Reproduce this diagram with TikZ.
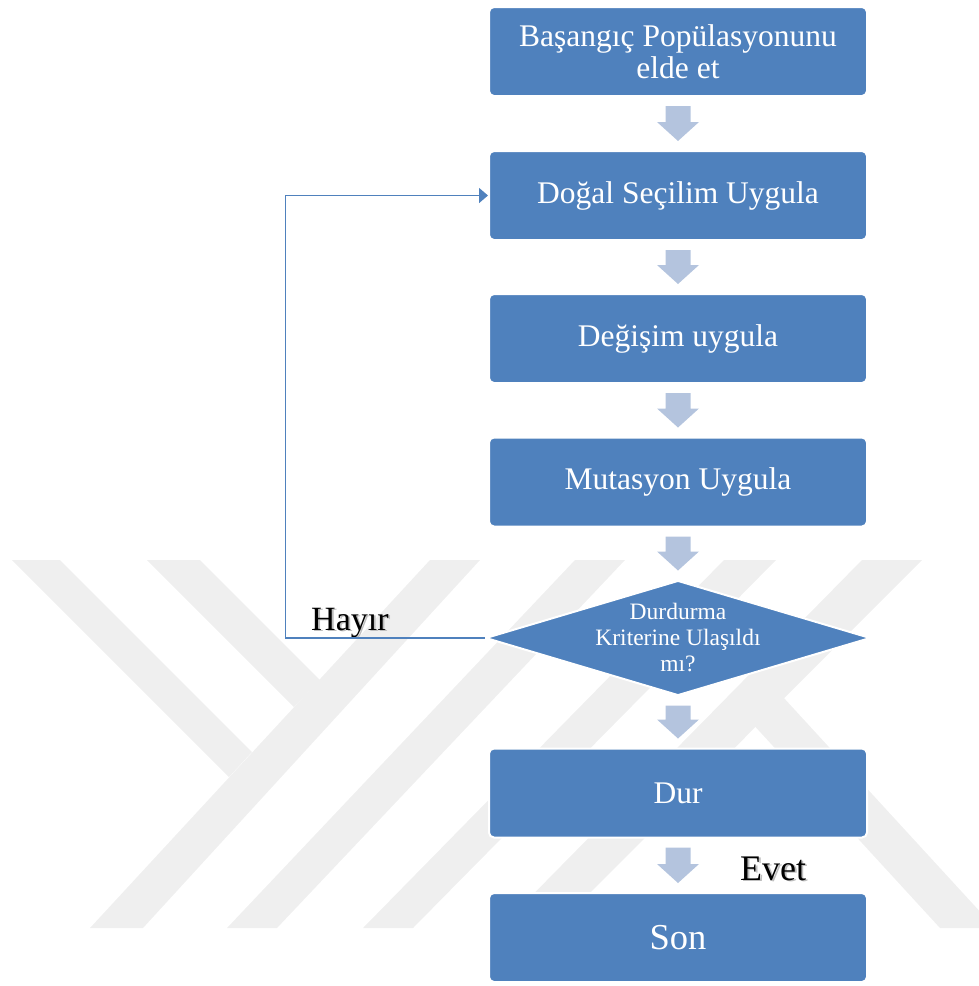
\documentclass[tikz,border=0pt]{standalone}
\usepackage{fontspec}
\setmainfont{Liberation Serif}
\usetikzlibrary{calc,arrows.meta,shapes.geometric}
\definecolor{boxblue}{RGB}{79,129,189}
\definecolor{arrowblue}{RGB}{180,196,222}
\definecolor{wmgray}{RGB}{239,239,239}
\definecolor{shadowgray}{RGB}{190,190,190}
\newcommand{\blockarrow}[2]{%
  \fill[arrowfill] let \p1=(#1.south), \p2=(#2.north) in
    (\x1-12.5pt,\y1-9pt) -- (\x1+12.5pt,\y1-9pt) -- (\x1+12.5pt,\y2+28pt)
    -- (\x1+21pt,\y2+28pt) -- (\x1,\y2+9pt) -- (\x1-21pt,\y2+28pt)
    -- (\x1-12.5pt,\y2+28pt) -- cycle;}
\newcommand{\shadowtext}[1]{\rlap{\kern1.8pt\raisebox{-1.8pt}{\textcolor{shadowgray}{#1}}}#1}
\begin{document}
\begin{tikzpicture}[x=1pt,y=-1pt,
  box/.style={rectangle, rounded corners=5pt, fill=boxblue, draw=white,
    line width=2pt, minimum width=378pt, minimum height=89pt, inner sep=0pt,
    text=white, align=center, font=\fontsize{31.5}{32}\selectfont},
  dia/.style={diamond, fill=boxblue, draw=white, line width=2pt,
    minimum width=385pt, minimum height=115pt, inner sep=0pt},
  diatext/.style={text=white, align=center, inner sep=0pt,
    font=\fontsize{23.5}{26}\selectfont},
  lbl/.style={text=black, inner sep=0pt},
  arrowfill/.style={fill=arrowblue},
  loopline/.style={draw=boxblue, line width=1.5pt,
    -{Triangle[length=9pt,width=15pt]}},
  wm/.style={fill=wmgray}]
\useasboundingbox (0,0) rectangle (979,986);
% watermark
\begin{scope}
  \clip (0,560) rectangle (979,928);
  \fill[wm] (90,928) -- (143,928) -- (480,560) -- (430,560) -- cycle;
  \fill[wm] (12,560) -- (60,560) -- (252,752) -- (229,777) -- cycle;
  \fill[wm] (147,560) -- (200,560) -- (320,680) -- (294,707) -- cycle;
  \fill[wm] (227,928) -- (277,928) -- (625,560) -- (575,560) -- cycle;
  \fill[wm] (363,928) -- (413,928) -- (776,560) -- (724,560) -- cycle;
  \fill[wm] (862,560) -- (922,560) -- (555,928) -- (500,928) -- cycle;
  \fill[wm] (728,697) -- (783,697) -- (995,928) -- (940,928) -- cycle;
\end{scope}
% nodes
\node[box] (b1) at (678,51.5) {Başangıç Popülasyonunu\\elde et};
\node[box] (b2) at (678,195.5) {Doğal Seçilim Uygula};
\node[box] (b3) at (678,338.5) {Değişim uygula};
\node[box] (b4) at (678,482) {Mutasyon Uygula};
\node[dia] (dia) at (678,638) {};
\node[diatext] (dt) at (dia.center) {Durdurma\\Kriterine Ulaşıldı\\mı?};
\node[box] (dur) at (678,793) {Dur};
\node[box, font=\fontsize{36.5}{38}\selectfont] (son) at (678,937.5) {Son};
% labels
\node[lbl, anchor=base west, font=\fontsize{34}{36}\selectfont] (hayir) at (311,630) {\shadowtext{Hayır}};
\node[lbl, anchor=base west, font=\fontsize{36}{38}\selectfont] (evet) at (740,880) {\shadowtext{Evet}};
% block arrows
\blockarrow{b1}{b2}
\blockarrow{b2}{b3}
\blockarrow{b3}{b4}
\blockarrow{b4}{dia}
\blockarrow{dia}{dur}
\blockarrow{dur}{son}
% loop connector
\coordinate (c1) at (285.5,638);
\draw[loopline] (dia.west) -- (c1) |- (b2.west);
\end{tikzpicture}
\end{document}
